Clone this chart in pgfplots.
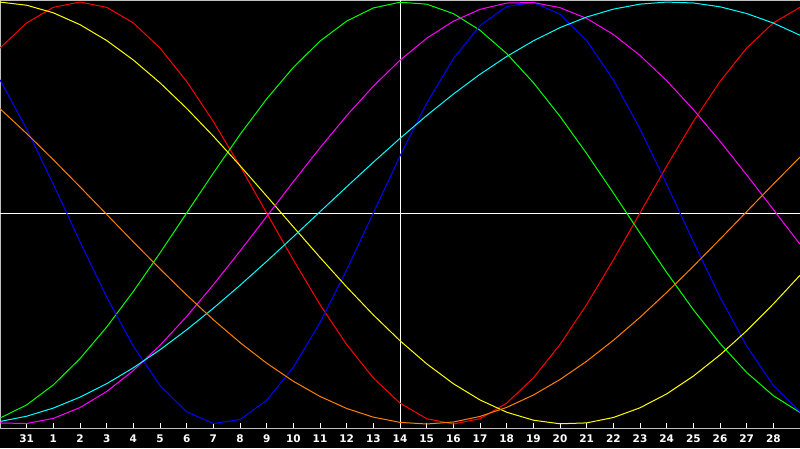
\documentclass[border=0pt]{standalone}
\usepackage{pgfplots}
\pgfplotsset{compat=1.18}
\usepackage{fontspec}
\newfontfamily\lblfont{DejaVu Sans}

\definecolor{framegray}{RGB}{192,192,192}
\definecolor{cred}{RGB}{255,0,0}
\definecolor{cgreen}{RGB}{0,255,0}
\definecolor{cblue}{RGB}{0,0,255}
\definecolor{cyellow}{RGB}{255,255,0}
\definecolor{cmagenta}{RGB}{255,0,255}
\definecolor{ccyan}{RGB}{0,255,255}
\definecolor{corange}{RGB}{255,128,0}

% one value per day, index 0 = day 30 of the previous month
\pgfplotstableread{
t red green blue yellow magenta cyan orange
0 0.7818 -0.9718 0.6310 0.9996 -0.9951 -0.9881 0.4944
1 0.9010 -0.9096 0.3984 0.9847 -0.9978 -0.9631 0.3766
2 0.9749 -0.8146 0.1362 0.9488 -0.9733 -0.9245 0.2525
3 1.0000 -0.6902 -0.1362 0.8926 -0.9223 -0.8729 0.1240
4 0.9749 -0.5407 -0.3984 0.8175 -0.8461 -0.8090 -0.0065
5 0.9010 -0.3717 -0.6310 0.7251 -0.7468 -0.7336 -0.1370
6 0.7818 -0.1893 -0.8170 0.6170 -0.6272 -0.6482 -0.2652
7 0.6235 0.0000 -0.9422 0.4958 -0.4904 -0.5536 -0.3887
8 0.4339 0.1893 -0.9977 0.3641 -0.3402 -0.4514 -0.5057
9 0.2225 0.3717 -0.9791 0.2246 -0.1808 -0.3427 -0.6140
10 0.0000 0.5407 -0.8879 0.0803 -0.0166 -0.2292 -0.7118
11 -0.2225 0.6902 -0.7311 -0.0657 0.1483 -0.1124 -0.7975
12 -0.4339 0.8146 -0.5196 -0.2103 0.3090 0.0059 -0.8693
13 -0.6235 0.9096 -0.2698 -0.3504 0.4614 0.1241 -0.9264
14 -0.7818 0.9718 0.0000 -0.4830 0.6010 0.2406 -0.9676
15 -0.9010 0.9989 0.2698 -0.6053 0.7242 0.3537 -0.9923
16 -0.9749 0.9898 0.5196 -0.7147 0.8280 0.4619 -1.0000
17 -1.0000 0.9450 0.7311 -0.8090 0.9090 0.5636 -0.9906
18 -0.9749 0.8660 0.8879 -0.8860 0.9652 0.6575 -0.9642
19 -0.9010 0.7557 0.9791 -0.9441 0.9951 0.7418 -0.9213
20 -0.7818 0.6182 0.9977 -0.9820 0.9978 0.8159 -0.8628
21 -0.6235 0.4582 0.9422 -0.9990 0.9733 0.8786 -0.7893
22 -0.4339 0.2817 0.8170 -0.9948 0.9223 0.9289 -0.7024
23 -0.2225 0.0951 0.6310 -0.9693 0.8461 0.9662 -0.6035
24 0.0000 -0.0951 0.3984 -0.9232 0.7468 0.9899 -0.4943
25 0.2225 -0.2817 0.1362 -0.8574 0.6272 0.9997 -0.3766
26 0.4339 -0.4582 -0.1362 -0.7730 0.4904 0.9955 -0.2525
27 0.6235 -0.6182 -0.3984 -0.6727 0.3402 0.9773 -0.1240
28 0.7818 -0.7557 -0.6310 -0.5582 0.1808 0.9454 0.0065
29 0.9010 -0.8660 -0.8170 -0.4310 0.0166 0.9002 0.1370
30 0.9749 -0.9450 -0.9422 -0.2951 -0.1483 0.8425 0.2652
}\bio

\begin{document}
\begin{tikzpicture}
\fill[black] (0,0) rectangle (800pt,448pt);
\begin{axis}[
  at={(0pt,20pt)}, anchor=south west,
  scale only axis, width=800pt, height=428pt,
  xmin=0, xmax=30, ymin=-1.019, ymax=1.0095,
  axis line style={draw=framegray, line width=1pt},
  xtick={1,...,29},
  xticklabels={31,1,2,3,4,5,6,7,8,9,10,11,12,13,14,15,16,17,18,19,20,21,22,23,24,25,26,27,28},
  xtick pos=bottom, tick align=inside,
  major tick length=5pt,
  xtick style={white, line width=1pt},
  ytick=\empty,
  xticklabel style={white, font=\lblfont\bfseries\fontsize{10.5}{12}\selectfont, anchor=center, yshift=-11pt},
  every axis plot/.append style={line width=1pt, line join=round},
]
\draw[white, line width=1pt] (axis cs:15,-1.019) -- (axis cs:15,1.0095);
\draw[white, line width=1pt] (axis cs:0,0) -- (axis cs:30,0);
\addplot[cred] table[x=t, y=red] {\bio};
\addplot[cgreen] table[x=t, y=green] {\bio};
\addplot[cblue] table[x=t, y=blue] {\bio};
\addplot[cyellow] table[x=t, y=yellow] {\bio};
\addplot[cmagenta] table[x=t, y=magenta] {\bio};
\addplot[ccyan] table[x=t, y=cyan] {\bio};
\addplot[corange] table[x=t, y=orange] {\bio};
\end{axis}
\pgfresetboundingbox
\path (0,0) rectangle (800pt,448pt);
\end{tikzpicture}
\end{document}
